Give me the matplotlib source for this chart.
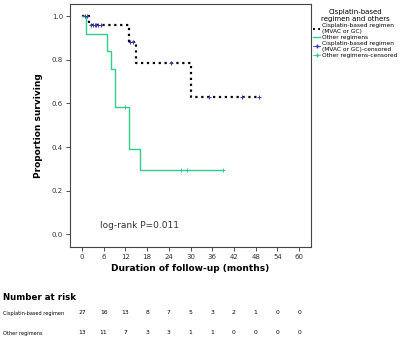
import numpy as np
import matplotlib.pyplot as plt
import matplotlib.transforms as mtransforms
from matplotlib.lines import Line2D

# survival curves (step, post)
cis_t = [0, 2, 13, 15, 30, 49]
cis_s = [1.0, 0.96, 0.88, 0.785, 0.63, 0.63]
cis_cens_t = [0.8, 1.5, 2.5, 3.0, 3.5, 4.0, 4.5, 5.2, 13.4, 14.2, 24.5, 35.2, 44.1, 49.0]
cis_cens_s = [1.0, 1.0, 0.96, 0.96, 0.96, 0.96, 0.96, 0.96, 0.88, 0.88, 0.785, 0.63, 0.63, 0.63]

oth_t = [0, 1, 7, 8, 9, 13, 16, 39]
oth_s = [1.0, 0.92, 0.84, 0.76, 0.585, 0.39, 0.295, 0.295]
oth_cens_t = [12, 27.5, 29, 39]
oth_cens_s = [0.585, 0.295, 0.295, 0.295]

# number at risk
risk_times = [0, 6, 12, 18, 24, 30, 36, 42, 48, 54, 60]
risk_cis = [27, 16, 13, 8, 7, 5, 3, 2, 1, 0, 0]
risk_oth = [13, 11, 7, 3, 3, 1, 1, 0, 0, 0, 0]

green = '#2fcf8a'
blue = '#3a3aa8'

fig = plt.figure(figsize=(4, 3.41), dpi=100)
ax = fig.add_axes([0.175, 0.276, 0.6025, 0.712])

ax.step(cis_t, cis_s, where='post', color='black', linestyle=':', linewidth=1.6)
ax.step(oth_t, oth_s, where='post', color=green, linewidth=1.0)
ax.plot(cis_cens_t, cis_cens_s, linestyle='none', marker='+', color=blue, markersize=3.5, markeredgewidth=0.7)
ax.plot(oth_cens_t, oth_cens_s, linestyle='none', marker='+', color=green, markersize=3.5, markeredgewidth=0.7)

ax.set_xlim(-3.3, 63.3)
ax.set_ylim(-0.058, 1.056)
ax.set_xticks(risk_times)
ax.set_yticks([0.0, 0.2, 0.4, 0.6, 0.8, 1.0])
ax.set_yticklabels(['0.0', '0.2', '0.4', '0.6', '0.8', '1.0'])
ax.tick_params(labelsize=5, length=3, width=0.6, color='#333333', labelcolor='#333333', pad=2)
for sp in ax.spines.values():
    sp.set_linewidth(0.8)
    sp.set_color('#444444')

ax.set_xlabel('Duration of follow-up (months)', fontsize=6.5, fontweight='bold', labelpad=3)
ax.set_ylabel('Proportion surviving', fontsize=6.5, fontweight='bold', labelpad=6)
ax.text(5, 0.04, 'log-rank P=0.011', fontsize=6.5, color='#333333', va='center')

handles = [
    Line2D([], [], color='black', linestyle=':', linewidth=1.4),
    Line2D([], [], color=green, linewidth=1.0),
    Line2D([], [], color=blue, marker='+', markersize=3.5, linewidth=0.6),
    Line2D([], [], color=green, marker='+', markersize=3.5, linewidth=0.6),
]
labels = ['Cisplatin-based regimen\n(MVAC or GC)', 'Other regimens',
          'Cisplatin-based regimen\n(MVAC or GC)-censored', 'Other regimens-censored']
leg = ax.legend(handles, labels, loc='upper left', bbox_to_anchor=(1.0, 0.985), frameon=False,
                fontsize=4.2, title='Cisplatin-based\nregimen and others', title_fontsize=5.0,
                handlelength=1.3, handletextpad=0.3, labelspacing=0.15, borderaxespad=0.2,
                borderpad=0.1)
leg.get_title().set_multialignment('center')

# number at risk table
tr = mtransforms.blended_transform_factory(ax.transData, fig.transFigure)
fig.text(0.008, 1 - 298 / 341, 'Number at risk', fontsize=6.2, fontweight='bold', va='center')
fig.text(0.008, 1 - 313 / 341, 'Cisplatin-based regimen', fontsize=3.6, va='center')
fig.text(0.008, 1 - 333 / 341, 'Other regimens', fontsize=3.6, va='center')
for t, a, b in zip(risk_times, risk_cis, risk_oth):
    ax.text(t, 1 - 313 / 341, str(a), transform=tr, fontsize=4.3, ha='center', va='center', clip_on=False)
    ax.text(t, 1 - 333 / 341, str(b), transform=tr, fontsize=4.3, ha='center', va='center', clip_on=False)

fig.savefig('out.png', dpi=100)
